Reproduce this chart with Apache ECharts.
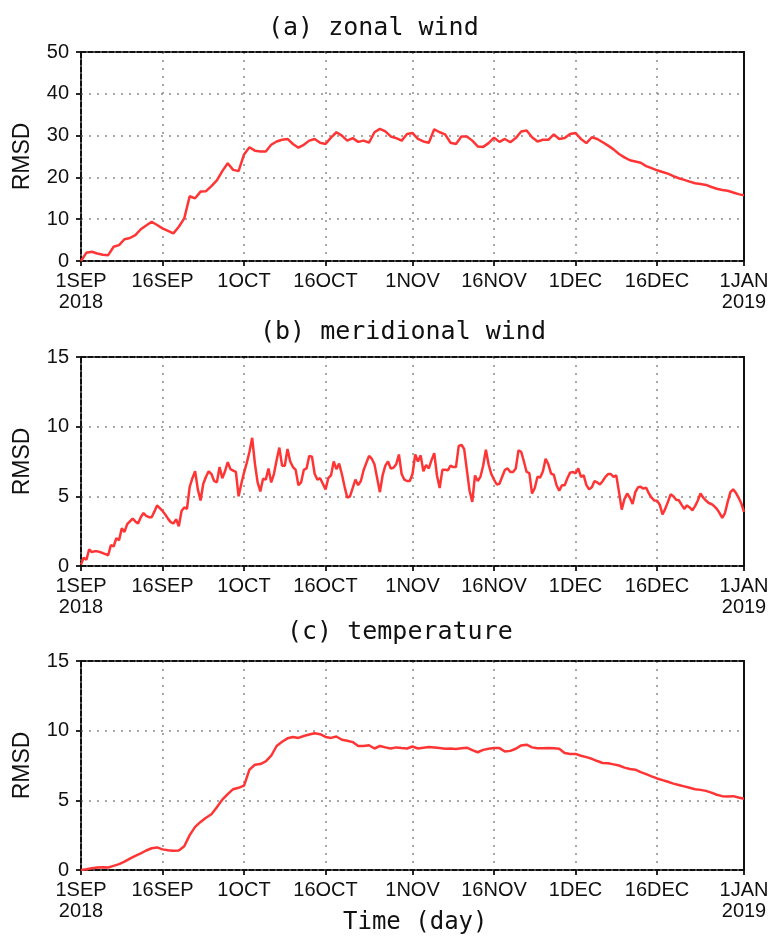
<!DOCTYPE html>
<html><head><meta charset="utf-8">
<script src="https://cdn.jsdelivr.net/npm/echarts@6/dist/echarts.min.js"></script>
<style>html,body{margin:0;padding:0;background:#fff}#c{width:773px;height:942px}</style>
</head><body><div id="c"></div>
<script>
// days since 1 Sep 2018 at which ticks are drawn
const tickDays = [0, 15, 30, 45, 61, 76, 91, 106, 122];
const tickLabels = ['1SEP\n2018', '16SEP', '1OCT', '16OCT', '1NOV', '16NOV', '1DEC', '16DEC', '1JAN\n2019'];
const panelTitles = ['(a) zonal wind', '(b) meridional wind', '(c) temperature'];
const yMax = [50, 15, 15];
const yStep = [10, 5, 5];

// (a) zonal wind RMSD, daily (1 Sep 2018 .. 1 Jan 2019)
const zonalWind = [0, 2.0, 2.2, 1.8, 1.5, 1.4, 3.4, 3.8, 5.2, 5.5,
  6.2, 7.6, 8.5, 9.4, 8.6, 7.8, 7.2, 6.6, 8.2, 10.2,
  15.5, 15.0, 16.6, 16.7, 17.9, 19.3, 21.5, 23.4, 21.8, 21.5,
  25.5, 27.2, 26.4, 26.2, 26.2, 27.8, 28.6, 29.0, 29.2, 28.0,
  27.1, 27.8, 28.8, 29.2, 28.3, 28.0, 29.5, 30.8, 30.0, 28.8,
  29.4, 28.5, 28.8, 28.3, 30.8, 31.6, 31.0, 29.8, 29.4, 28.8,
  30.4, 30.6, 29.2, 28.6, 28.3, 31.5, 30.8, 30.3, 28.3, 28.0,
  29.8, 29.8, 28.8, 27.4, 27.3, 28.2, 29.5, 28.5, 29.2, 28.4,
  29.4, 31.0, 31.2, 29.6, 28.6, 29.0, 29.0, 30.3, 29.2, 29.4,
  30.4, 30.6, 29.2, 28.2, 29.6, 29.2, 28.4, 27.6, 26.7, 25.6,
  24.8, 24.1, 23.8, 23.5, 22.7, 22.2, 21.7, 21.3, 20.9, 20.3,
  19.8, 19.4, 19.0, 18.6, 18.4, 18.2, 17.7, 17.3, 17.0, 16.8,
  16.4, 16.0, 15.7];

// (b) meridional wind RMSD, every 12 hours
const meridionalWind = [0.1, 0.6, 0.45, 1.2, 1.0, 1.05, 1.05, 1.0, 0.93, 0.85,
  0.77, 1.5, 1.4, 2.0, 1.85, 2.7, 2.45, 3.0, 3.2, 3.4,
  3.2, 3.05, 3.5, 3.8, 3.6, 3.5, 3.5, 3.9, 4.35, 4.15,
  3.95, 3.7, 3.4, 3.15, 3.05, 3.35, 2.85, 3.95, 4.2, 4.1,
  5.67, 6.3, 6.8, 5.5, 4.7, 5.9, 6.4, 6.8, 6.6, 6.1,
  6.0, 7.1, 6.3, 6.8, 7.45, 6.95, 6.85, 6.75, 5.0, 5.9,
  6.7, 7.4, 8.2, 9.2, 7.35, 6.0, 5.35, 6.27, 6.2, 7.0,
  6.0, 6.6, 7.6, 8.5, 7.2, 7.2, 8.4, 7.5, 7.1, 6.9,
  5.8, 6.0, 6.9, 7.0, 7.9, 7.85, 6.6, 6.2, 6.3, 5.9,
  5.5, 6.3, 6.5, 7.5, 6.95, 7.35, 6.6, 5.7, 4.9, 5.0,
  5.6, 6.2, 5.8, 6.1, 6.87, 7.4, 7.9, 7.7, 7.3, 6.3,
  5.3, 6.5, 7.2, 7.5, 7.0, 7.05, 7.3, 8.0, 6.6, 6.2,
  6.1, 6.1, 6.6, 8.0, 7.5, 7.94, 6.8, 7.25, 7.0, 7.6,
  8.1, 6.5, 5.6, 6.9, 6.9, 6.87, 7.2, 7.1, 7.1, 8.6,
  8.7, 8.4, 6.9, 5.4, 4.6, 6.5, 6.1, 6.4, 7.2, 8.35,
  7.3, 6.6, 6.2, 5.85, 5.9, 6.4, 6.9, 7.0, 6.75, 6.75,
  7.0, 8.3, 8.2, 7.5, 6.75, 6.67, 5.2, 5.6, 6.4, 6.35,
  6.8, 7.7, 7.3, 6.63, 6.55, 5.8, 5.4, 5.8, 5.8, 6.3,
  6.7, 6.75, 6.65, 7.0, 6.4, 6.5, 5.8, 5.5, 5.65, 6.1,
  6.0, 5.85, 6.1, 6.4, 6.6, 6.6, 6.4, 6.5, 5.3, 4.05,
  4.8, 5.2, 4.9, 4.45, 5.3, 5.65, 5.68, 5.55, 5.62, 5.2,
  4.9, 4.7, 4.68, 4.4, 3.7, 4.1, 4.6, 5.14, 5.0, 4.76,
  4.72, 4.4, 4.1, 4.35, 4.2, 4.0, 4.3, 4.7, 5.2, 4.9,
  4.7, 4.52, 4.45, 4.3, 4.1, 3.8, 3.45, 3.8, 4.6, 5.3,
  5.5, 5.25, 4.9, 4.5, 3.88];

// (c) temperature RMSD, daily
const temperature = [0.0, 0.05, 0.12, 0.18, 0.2, 0.18, 0.3, 0.42, 0.6, 0.82,
  1.02, 1.2, 1.4, 1.56, 1.62, 1.48, 1.42, 1.38, 1.4, 1.7,
  2.5, 3.1, 3.45, 3.75, 4.0, 4.5, 5.05, 5.45, 5.8, 5.9,
  6.05, 7.2, 7.55, 7.6, 7.8, 8.2, 8.9, 9.2, 9.45, 9.55,
  9.48, 9.62, 9.72, 9.82, 9.75, 9.55, 9.48, 9.58, 9.35, 9.28,
  9.18, 8.9, 8.9, 8.95, 8.72, 8.9, 8.8, 8.72, 8.8, 8.75,
  8.72, 8.86, 8.72, 8.78, 8.82, 8.8, 8.75, 8.7, 8.72, 8.68,
  8.74, 8.78, 8.6, 8.45, 8.62, 8.7, 8.76, 8.75, 8.5, 8.55,
  8.7, 8.94, 8.99, 8.8, 8.74, 8.74, 8.76, 8.74, 8.7, 8.4,
  8.33, 8.33, 8.2, 8.1, 7.98, 7.82, 7.68, 7.66, 7.58, 7.5,
  7.35, 7.25, 7.2, 7.02, 6.88, 6.72, 6.57, 6.45, 6.33, 6.2,
  6.1, 6.0, 5.9, 5.8, 5.75, 5.68, 5.55, 5.4, 5.3, 5.27,
  5.3, 5.2, 5.12];

const seriesValues = [zonalWind, meridionalWind, temperature];
const stepDays = [1, 0.5, 1];

const gridTops = [52, 357, 661];
const gridH = 209;
const chart = echarts.init(document.getElementById('c'));

const frameDash = { color: '#111', width: 2, type: [5, 2] };
const dotLine = { color: '#8a8a8a', width: 1.5, type: [2, 6] };
const labFont = { fontFamily: 'Liberation Sans', fontSize: 20, color: '#111' };

const grids = [], xAxes = [], yAxes = [], series = [], titles = [];
for (let i = 0; i < 3; i++) {
  grids.push({ left: 81, right: 29, top: gridTops[i], height: gridH, show: false });
  xAxes.push({
    gridIndex: i, type: 'value', min: 0, max: 122,
    axisLine: { show: true, onZero: false, lineStyle: frameDash },
    axisTick: { show: true, inside: false, length: 5, customValues: tickDays, lineStyle: { color: '#111', width: 1.8 } },
    axisLabel: { show: true, customValues: tickDays, margin: 10, lineHeight: 21, ...labFont,
      formatter: v => tickLabels[tickDays.indexOf(v)] },
    splitLine: { show: true, showMinLine: false, showMaxLine: false, lineStyle: dotLine }
  });
  yAxes.push({
    gridIndex: i, type: 'value', min: 0, max: yMax[i], interval: yStep[i],
    name: 'RMSD', nameLocation: 'middle', nameGap: 47,
    nameTextStyle: { fontFamily: 'Liberation Sans', fontSize: 23, color: '#111' },
    axisLine: { show: true, onZero: false, lineStyle: frameDash },
    axisTick: { show: true, inside: false, length: 5, lineStyle: { color: '#111', width: 1.8 } },
    axisLabel: { margin: 12, ...labFont },
    splitLine: { show: true, showMinLine: false, showMaxLine: false, lineStyle: dotLine }
  });
  series.push({
    type: 'line', xAxisIndex: i, yAxisIndex: i, showSymbol: false, symbol: 'none', z: 5,
    lineStyle: { color: '#ff3535', width: 2.5 },
    data: seriesValues[i].map((v, k) => [k * stepDays[i], v])
  });
}
// top and right frame edges
for (let i = 0; i < 3; i++) {
  xAxes.push({ gridIndex: i, type: 'value', min: 0, max: 122, position: 'top',
    axisLine: { show: true, onZero: false, lineStyle: frameDash }, axisTick: { show: false },
    axisLabel: { show: false }, splitLine: { show: false } });
  yAxes.push({ gridIndex: i, type: 'value', min: 0, max: yMax[i], position: 'right',
    axisLine: { show: true, onZero: false, lineStyle: { color: '#111', width: 2 } }, axisTick: { show: false },
    axisLabel: { show: false }, splitLine: { show: false } });
}
const titleFont = { fontFamily: 'DejaVu Sans Mono', fontSize: 25, fontWeight: 'normal', color: '#111' };
const titleLeft = [268, 260, 287];
const titleTop = [16, 320, 620];
for (let i = 0; i < 3; i++) {
  titles.push({ text: panelTitles[i], left: titleLeft[i], top: titleTop[i], padding: 0, textStyle: titleFont });
}
titles.push({ text: 'Time (day)', left: 343, top: 911, padding: 0,
  textStyle: { ...titleFont, fontSize: 24 } });

chart.setOption({
  animation: false,
  backgroundColor: '#fff',
  title: titles,
  grid: grids,
  xAxis: xAxes,
  yAxis: yAxes,
  series: series
});
</script></body></html>
